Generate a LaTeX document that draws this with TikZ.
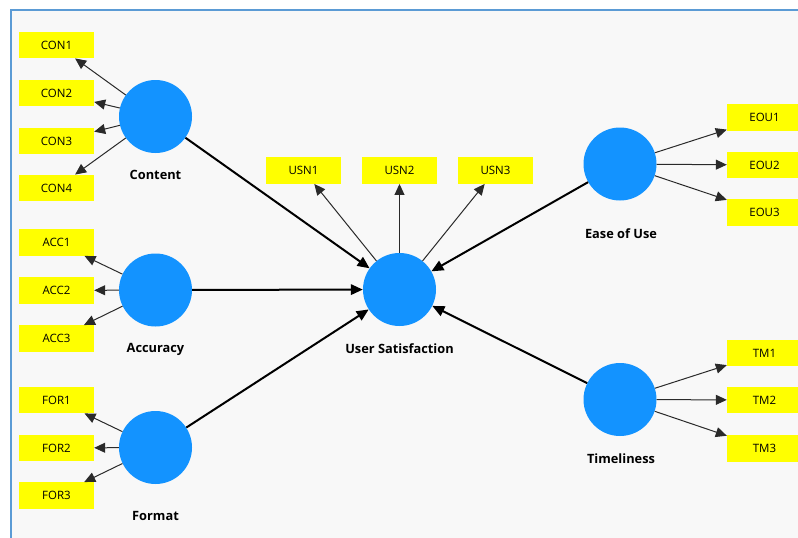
\documentclass[tikz,border=0pt]{standalone}
\usepackage{fontspec}
\setmainfont{Open Sans}
\usetikzlibrary{arrows.meta}
\definecolor{bgc}{HTML}{F8F8F8}
\definecolor{framec}{HTML}{5B9BD5}
\definecolor{lvblue}{RGB}{19,147,255}
\definecolor{indyellow}{RGB}{255,255,0}
\definecolor{indline}{HTML}{2A2A2A}
\tikzset{
  lv/.style={circle, fill=lvblue, minimum size=73pt, inner sep=0pt},
  ind/.style={fill=indyellow, minimum width=75pt, minimum height=26.5pt, inner sep=0pt, font=\fontsize{11.5}{12}\selectfont},
  lbl/.style={font=\bfseries\fontsize{12.8}{14}\selectfont},
  indarrow/.style={-{Triangle[length=11pt,width=10pt]}, line width=1pt, draw=indline},
  patharrow/.style={-{Triangle[length=12pt,width=10.5pt]}, line width=2pt, draw=black},
}
\begin{document}
\begin{tikzpicture}[x=1pt,y=-1pt]
\useasboundingbox (0,0) rectangle (798,538);
\clip (0,0) rectangle (798,538);
\fill[white] (0,0) rectangle (798,538);
\fill[bgc] (11,10) rectangle (800,540);
\draw[framec, line width=2pt] (11,540) -- (11,10) -- (800,10);

% latent variables
\node[lv] (con) at (155.5,116.5) {};
\node[lv] (acc) at (155.5,290) {};
\node[lv] (frm) at (155.5,447.5) {};
\node[lv] (usn) at (399.5,289.5) {};
\node[lv] (eou) at (620,164) {};
\node[lv] (tml) at (620,399.5) {};

% labels
\node[lbl] (lcon) at (155.5,175) {Content};
\node[lbl] (lacc) at (155.5,349) {Accuracy};
\node[lbl] (lfrm) at (155.5,516) {Format};
\node[lbl] (lusn) at (399.5,349) {User Satisfaction};
\node[lbl] (leou) at (621,234) {Ease of Use};
\node[lbl] (ltml) at (621,459) {Timeliness};

% indicators
\node[ind] (con1) at (56.5,45) {CON1};
\node[ind] (con2) at (56.5,93) {CON2};
\node[ind] (con3) at (56.5,141) {CON3};
\node[ind] (con4) at (56.5,188) {CON4};
\node[ind] (acc1) at (56.5,242.5) {ACC1};
\node[ind] (acc2) at (56.5,290.5) {ACC2};
\node[ind] (acc3) at (56.5,338.5) {ACC3};
\node[ind] (for1) at (56.5,400) {FOR1};
\node[ind] (for2) at (56.5,448) {FOR2};
\node[ind] (for3) at (56.5,495.5) {FOR3};
\node[ind] (usn1) at (303.5,170.5) {USN1};
\node[ind] (usn2) at (399.5,170.5) {USN2};
\node[ind] (usn3) at (495.5,170.5) {USN3};
\node[ind] (eou1) at (764.5,117.5) {EOU1};
\node[ind] (eou2) at (764.5,165) {EOU2};
\node[ind] (eou3) at (764.5,212.5) {EOU3};
\node[ind] (tm1) at (764.5,353) {TM1};
\node[ind] (tm2) at (764.5,400) {TM2};
\node[ind] (tm3) at (764.5,448.5) {TM3};

% indicator arrows
\foreach \s/\t in {con/con1,con/con2,con/con3,con/con4,acc/acc1,acc/acc2,acc/acc3,frm/for1,frm/for2,frm/for3,usn/usn1,usn/usn2,usn/usn3,eou/eou1,eou/eou2,eou/eou3,tml/tm1,tml/tm2,tml/tm3}
  \draw[indarrow] (\s) -- (\t);

% structural paths
\foreach \s in {con,acc,frm,eou,tml}
  \draw[patharrow] (\s) -- (usn);
\end{tikzpicture}
\end{document}
